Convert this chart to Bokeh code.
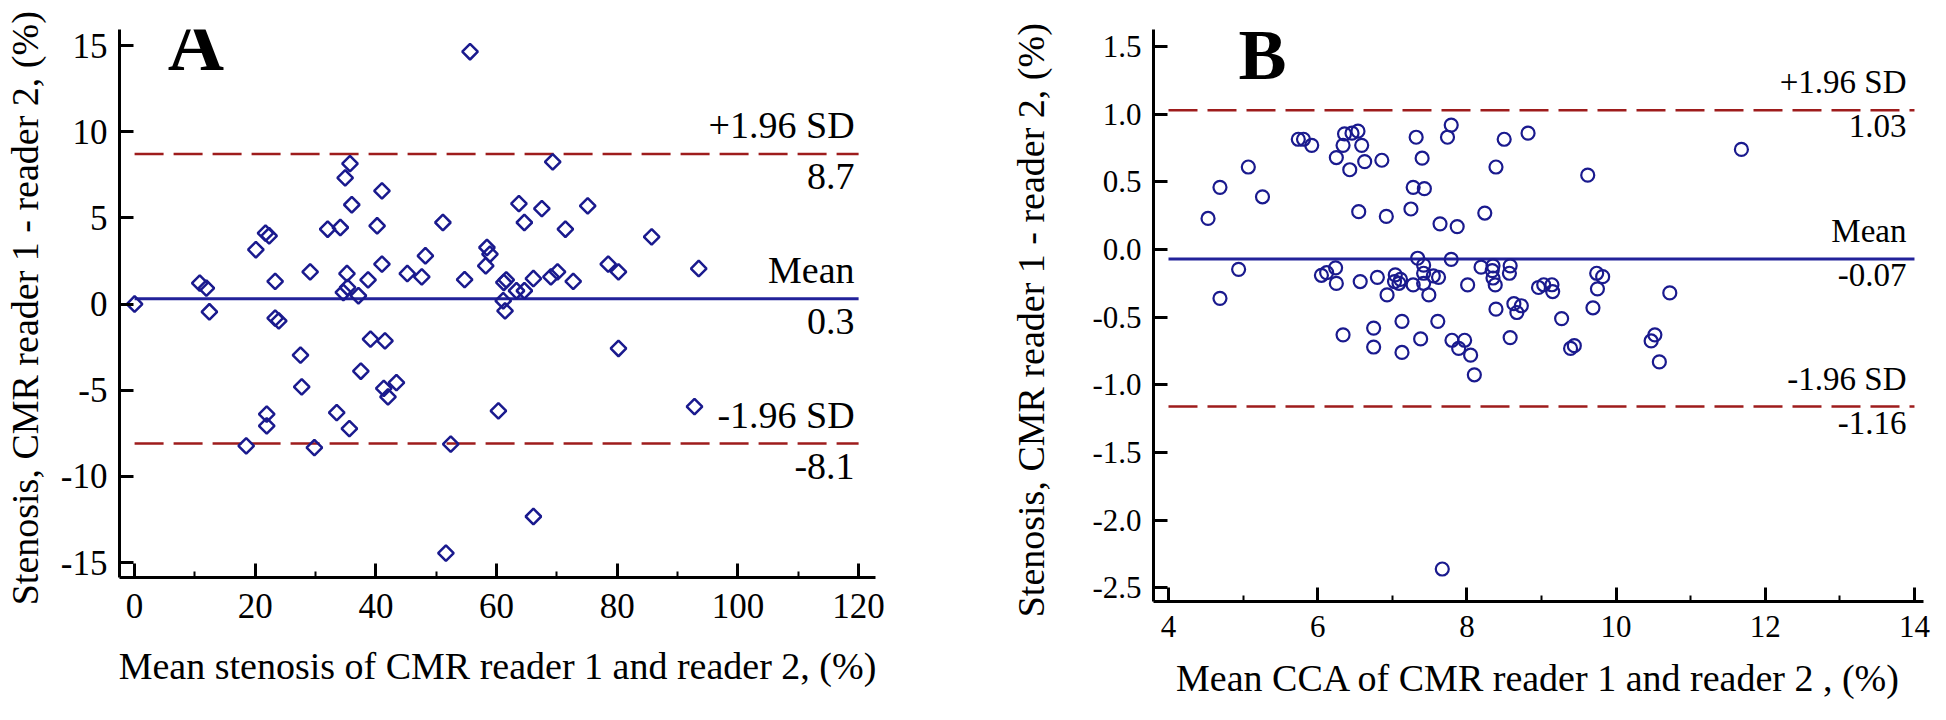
from bokeh.plotting import figure
from bokeh.layouts import row
from bokeh.models import FixedTicker, Range1d, Label
from bokeh.core.properties import value
from bokeh.embed import file_html
from bokeh.resources import INLINE

SERIF = "Liberation Serif"
NAVY = "#1A1A8E"
MEAN_COLOR = "#22229A"
LIMIT_COLOR = "#9E1C1C"

# ---------------- Panel A data ----------------
a_x = [55.6, 35.7, 34.9, 41.0, 36.0, 69.3, 63.7, 67.5, 64.6, 71.4,
       51.1, 32.0, 34.1, 40.2, 21.7, 22.3, 20.1, 58.4, 58.9, 58.2,
       48.2, 41.0, 29.1, 35.2, 45.2, 47.6, 54.7, 38.7, 23.3, 10.8,
       11.9, 61.6, 61.2, 66.1, 69.0, 70.1, 72.7, 63.3, 64.6, 61.1,
       61.4, 34.6, 35.3, 37.1, 0.0, 12.4, 23.3, 23.9, 39.1, 41.5,
       27.5, 37.5, 43.4, 41.3, 42.0, 27.7, 33.5, 21.9, 21.9, 35.6,
       18.5, 29.8, 52.4, 60.3, 66.1, 51.6, 75.1, 85.7, 78.5, 80.2,
       93.5, 80.2, 92.8]
a_y = [14.64, 8.15, 7.32, 6.57, 5.76, 8.25, 5.83, 5.54, 4.73, 4.34,
       4.73, 4.34, 4.44, 4.54, 4.11, 3.96, 3.15, 3.28, 2.89, 2.22,
       2.80, 2.31, 1.87, 1.77, 1.77, 1.58, 1.42, 1.40, 1.31, 1.21,
       0.92, 1.40, 1.25, 1.48, 1.58, 1.87, 1.31, 0.77, 0.77, 0.19,
       -0.40, 0.67, 0.96, 0.48, 0.0, -0.45, -0.82, -0.98, -2.04, -2.14,
       -2.97, -3.90, -4.56, -4.90, -5.39, -4.81, -6.30, -6.39, -7.07, -7.23,
       -8.23, -8.33, -8.13, -6.20, -12.33, -14.46, 5.70, 3.90, 2.31, 1.87,
       2.06, -2.58, -5.95]
a_mean, a_upper, a_lower = 0.3, 8.7, -8.1
a_above = ["+1.96 SD", "Mean", "-1.96 SD"]
a_below = ["8.7", "0.3", "-8.1"]
a_xticks = [0, 20, 40, 60, 80, 100, 120]
a_xminor = [10, 30, 50, 70, 90, 110]
a_yticks = [-15, -10, -5, 0, 5, 10, 15]
a_ytick_labels = ["-15", "-10", "-5", "0", "5", "10", "15"]
a_xlabel = "Mean stenosis of CMR reader 1 and reader 2, (%)"
a_ylabel = "Stenosis,  CMR reader 1 - reader 2, (%)"
a_letter = "A"

# ---------------- Panel B data ----------------
b_x = [4.53, 4.69, 5.07, 5.26, 5.74, 5.81, 5.92, 6.25, 6.34, 6.36,
       6.46, 6.54, 6.43, 6.59, 6.63, 6.86, 6.55, 6.92, 7.25, 7.28,
       7.43, 7.32, 7.40, 7.74, 7.79, 7.64, 7.87, 8.24, 8.39, 8.50,
       8.82, 9.62, 11.68,
       4.94, 4.69, 6.05, 6.12, 6.24, 6.25, 6.57, 6.80, 6.93, 7.04,
       7.03, 7.09, 7.11, 7.28, 7.34, 7.42, 7.42, 7.42, 7.49, 7.55,
       7.62, 7.79, 8.01, 8.19, 8.34, 8.35, 8.38, 8.35, 8.58, 8.57,
       8.39, 8.63, 8.73, 8.67, 8.58, 8.96, 9.03, 9.14, 9.15, 9.27,
       9.39, 9.44, 9.69, 9.75, 9.74, 9.82, 10.52, 10.47, 10.58, 10.72,
       6.34, 6.75, 6.75, 7.13, 7.13, 7.38, 7.61, 7.80, 7.97, 7.89,
       8.05, 8.10, 7.67]
b_y = [0.23, 0.46, 0.61, 0.39, 0.815, 0.815, 0.77, 0.68, 0.77, 0.855,
       0.86, 0.875, 0.59, 0.77, 0.65, 0.66, 0.28, 0.245, 0.30, 0.46,
       0.45, 0.83, 0.675, 0.83, 0.92, 0.19, 0.17, 0.27, 0.61, 0.815,
       0.86, 0.55, 0.74,
       -0.146, -0.36, -0.19, -0.17, -0.135, -0.25, -0.236, -0.205, -0.335, -0.187,
       -0.236, -0.249, -0.22, -0.261, -0.064, -0.115, -0.175, -0.249, -0.335, -0.194,
       -0.205, -0.072, -0.261, -0.13, -0.155, -0.21, -0.261, -0.12, -0.12, -0.175,
       -0.44, -0.40, -0.415, -0.465, -0.65, -0.28, -0.26, -0.26, -0.31, -0.51,
       -0.73, -0.71, -0.43, -0.29, -0.175, -0.20, -0.63, -0.675, -0.83, -0.32,
       -0.63, -0.58, -0.72, -0.53, -0.76, -0.66, -0.53, -0.67, -0.67, -0.73,
       -0.78, -0.925, -2.36]
b_mean, b_upper, b_lower = -0.07, 1.03, -1.16
b_above = ["+1.96 SD", "Mean", "-1.96 SD"]
b_below = ["1.03", "-0.07", "-1.16"]
b_xticks = [4, 6, 8, 10, 12, 14]
b_xminor = [5, 7, 9, 11, 13]
b_yticks = [-2.5, -2.0, -1.5, -1.0, -0.5, 0.0, 0.5, 1.0, 1.5]
b_ytick_labels = ["-2.5", "-2.0", "-1.5", "-1.0", "-0.5", "0.0", "0.5", "1.0", "1.5"]
b_xlabel = "Mean CCA of CMR reader 1 and reader 2 , (%)"
b_ylabel = "Stenosis,  CMR reader 1 - reader 2, (%)"
b_letter = "B"


def panel(xs, ys, mean, upper, lower, above, below, xticks, xminor,
          yticks, ytick_labels, xlabel, ylabel, letter,
          frame_w, frame_h, xr, yr, borders, marker, msize,
          tick_fs, note_fs, label_fs, letter_pos, letter_fs,
          ylab_standoff, xtick_standoff, xlab_standoff, note_dx,
          above_dy, below_dy):
    p = figure(frame_width=frame_w, frame_height=frame_h,
               x_range=Range1d(*xr), y_range=Range1d(*yr),
               output_backend="svg", toolbar_location=None,
               min_border_left=borders[0], min_border_top=borders[1],
               min_border_right=borders[2], min_border_bottom=borders[3])
    p.outline_line_color = None
    p.xgrid.visible = False
    p.ygrid.visible = False
    p.background_fill_color = "white"
    p.border_fill_color = "white"

    for ax in (p.xaxis[0], p.yaxis[0]):
        ax.axis_line_width = 3
        ax.axis_line_color = "black"
        ax.major_tick_line_width = 3
        ax.minor_tick_line_width = 2
        ax.major_tick_in = 14
        ax.major_tick_out = 0
        ax.minor_tick_in = 6
        ax.minor_tick_out = 0
        ax.major_label_text_font = SERIF
        ax.major_label_text_font_size = tick_fs
        ax.major_label_text_color = "black"
        ax.axis_label_text_font = SERIF
        ax.axis_label_text_font_style = "normal"
        ax.axis_label_text_font_size = label_fs
        ax.axis_label_text_color = "black"

    p.xaxis.ticker = FixedTicker(ticks=xticks, minor_ticks=xminor)
    p.yaxis.ticker = FixedTicker(ticks=yticks, minor_ticks=[])
    p.yaxis.major_label_overrides = {t: s for t, s in zip(yticks, ytick_labels)}
    p.xaxis.major_label_overrides = {t: str(t) for t in xticks}
    p.xaxis.axis_label = xlabel
    p.yaxis.axis_label = ylabel
    p.xaxis.major_label_standoff = xtick_standoff
    p.yaxis.major_label_standoff = 12
    p.xaxis.axis_label_standoff = xlab_standoff
    p.yaxis.axis_label_standoff = ylab_standoff

    x0, x1 = xticks[0], xticks[-1]
    p.segment(x0=[x0, x0], x1=[x1, x1], y0=[upper, lower], y1=[upper, lower],
              line_color=LIMIT_COLOR, line_width=2.5, line_dash="29 10")
    p.segment(x0=[x0], x1=[x1], y0=[mean], y1=[mean],
              line_color=MEAN_COLOR, line_width=3)

    if marker == "diamond":
        p.scatter(xs, ys, marker="square", angle=0.785398, size=msize,
                  fill_color=None, line_color=NAVY, line_width=2.5)
    else:
        p.scatter(xs, ys, marker="circle", size=msize,
                  fill_color=None, line_color=NAVY, line_width=2.2)

    levels = [upper, mean, lower]
    p.text(x=[x1] * 3, y=levels, text=above, text_align="right",
           text_baseline="alphabetic", x_offset=note_dx, y_offset=above_dy,
           text_font=value(SERIF), text_font_size=note_fs, text_color="black")
    p.text(x=[x1] * 3, y=levels, text=below, text_align="right",
           text_baseline="top", x_offset=note_dx, y_offset=below_dy,
           text_font=value(SERIF), text_font_size=note_fs, text_color="black")

    p.add_layout(Label(x=letter_pos[0], y=letter_pos[1], text=letter,
                       text_font=SERIF, text_font_style="bold",
                       text_font_size=letter_fs, text_color="black",
                       text_baseline="alphabetic", text_align="left"))
    return p


pa = panel(a_x, a_y, a_mean, a_upper, a_lower, a_above, a_below,
           a_xticks, a_xminor, a_yticks, a_ytick_labels, a_xlabel, a_ylabel, a_letter,
           frame_w=756, frame_h=548, xr=(-2.5, 122.8), yr=(-15.87, 15.93),
           borders=(118, 29, 78, 127), marker="diamond", msize=11,
           tick_fs="35px", note_fs="38px", label_fs="38px",
           letter_pos=(5.5, 15.1), letter_fs="78px", ylab_standoff=12,
           xtick_standoff=16, xlab_standoff=24, note_dx=-4,
           above_dy=-29, below_dy=10)

pb = panel(b_x, b_y, b_mean, b_upper, b_lower, b_above, b_below,
           b_xticks, b_xminor, b_yticks, b_ytick_labels, b_xlabel, b_ylabel, b_letter,
           frame_w=770, frame_h=572, xr=(3.799, 14.121), yr=(-2.6, 1.626),
           borders=(200, 15, 8, 117), marker="circle", msize=13,
           tick_fs="31px", note_fs="33px", label_fs="38px",
           letter_pos=(4.94, 1.44), letter_fs="72px", ylab_standoff=37,
           xtick_standoff=14, xlab_standoff=17, note_dx=-8,
           above_dy=-28, below_dy=5)

layout = row(pa, pb)
open("out.html", "w").write(file_html(layout, INLINE))
